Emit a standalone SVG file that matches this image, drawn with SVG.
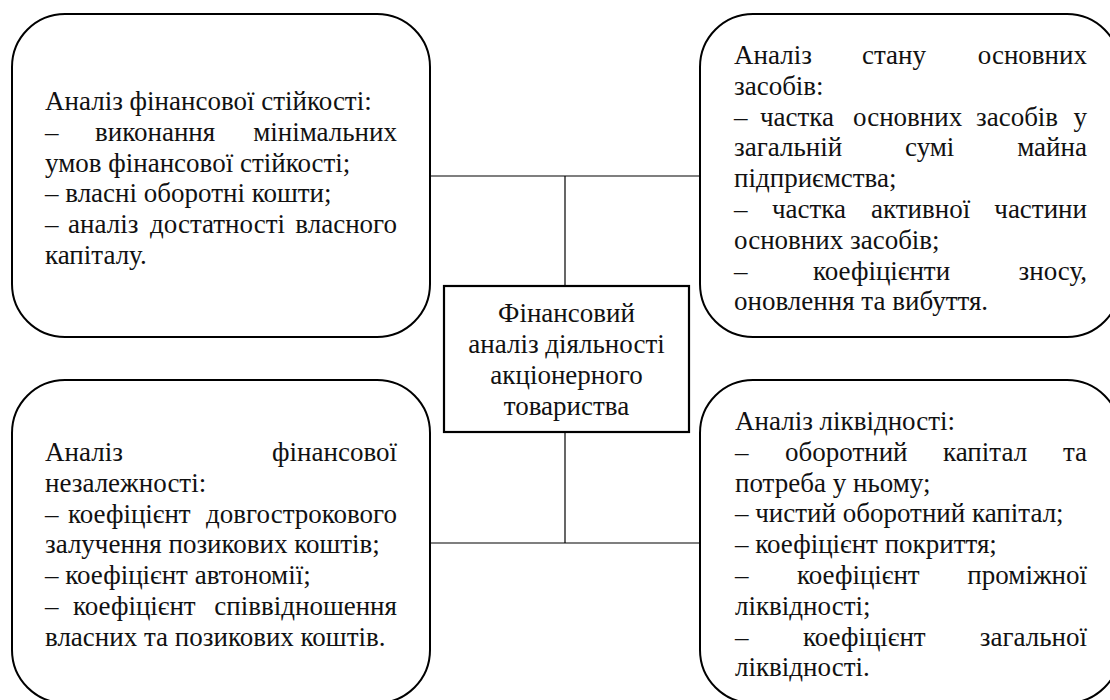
<svg xmlns="http://www.w3.org/2000/svg" width="1110" height="700" viewBox="0 0 1110 700">
<rect width="1110" height="700" fill="#fff"/>
<g id="connectors" stroke="#000" stroke-width="1.2" fill="none">
<line x1="430" y1="176" x2="700" y2="176"/>
<line x1="565" y1="176" x2="565" y2="286"/>
<line x1="565" y1="432" x2="565" y2="543"/>
<line x1="430" y1="543" x2="700" y2="543"/>
</g>
<g id="node-stability">
<rect x="12" y="14" width="418" height="323" rx="53" ry="53" fill="#fff" stroke="#000" stroke-width="2"/>
<text style="font-family:'Liberation Serif',serif !important;font-size:27px" fill="#111" x="45" y="110">Аналіз фінансової стійкості:</text>
<text style="font-family:'Liberation Serif',serif !important;font-size:27px" fill="#111" y="140.8"><tspan x="45">–</tspan><tspan x="95">виконання</tspan><tspan x="397" text-anchor="end">мінімальних</tspan></text>
<text style="font-family:'Liberation Serif',serif !important;font-size:27px" fill="#111" x="45" y="171.6">умов фінансової стійкості;</text>
<text style="font-family:'Liberation Serif',serif !important;font-size:27px" fill="#111" x="45" y="202.4">– власні оборотні кошти;</text>
<text style="font-family:'Liberation Serif',serif !important;font-size:27px" fill="#111" y="233.2"><tspan x="45">–</tspan><tspan x="68">аналіз</tspan><tspan x="150">достатності</tspan><tspan x="397" text-anchor="end">власного</tspan></text>
<text style="font-family:'Liberation Serif',serif !important;font-size:27px" fill="#111" x="45" y="264">капіталу.</text>
</g>
<g id="node-fixed-assets">
<rect x="700" y="14" width="420" height="323" rx="53" ry="53" fill="#fff" stroke="#000" stroke-width="2"/>
<text style="font-family:'Liberation Serif',serif !important;font-size:27px" fill="#111" y="64"><tspan x="734">Аналіз</tspan><tspan x="862">стану</tspan><tspan x="1087" text-anchor="end">основних</tspan></text>
<text style="font-family:'Liberation Serif',serif !important;font-size:27px" fill="#111" x="734" y="94.8">засобів:</text>
<text style="font-family:'Liberation Serif',serif !important;font-size:27px" fill="#111" y="125.6"><tspan x="734">–</tspan><tspan x="760">частка</tspan><tspan x="853">основних</tspan><tspan x="976">засобів</tspan><tspan x="1087" text-anchor="end">у</tspan></text>
<text style="font-family:'Liberation Serif',serif !important;font-size:27px" fill="#111" y="156.4"><tspan x="734">загальній</tspan><tspan x="905">сумі</tspan><tspan x="1087" text-anchor="end">майна</tspan></text>
<text style="font-family:'Liberation Serif',serif !important;font-size:27px" fill="#111" x="734" y="187.2">підприємства;</text>
<text style="font-family:'Liberation Serif',serif !important;font-size:27px" fill="#111" y="218"><tspan x="734">–</tspan><tspan x="772">частка</tspan><tspan x="871">активної</tspan><tspan x="1087" text-anchor="end">частини</tspan></text>
<text style="font-family:'Liberation Serif',serif !important;font-size:27px" fill="#111" x="734" y="248.8">основних засобів;</text>
<text style="font-family:'Liberation Serif',serif !important;font-size:27px" fill="#111" y="279.6"><tspan x="734">–</tspan><tspan x="813">коефіцієнти</tspan><tspan x="1087" text-anchor="end">зносу,</tspan></text>
<text style="font-family:'Liberation Serif',serif !important;font-size:27px" fill="#111" x="734" y="310.4">оновлення та вибуття.</text>
</g>
<g id="node-center">
<rect x="444" y="286" width="245" height="146" fill="#fff" stroke="#000" stroke-width="2.2"/>
<text style="font-family:'Liberation Serif',serif !important;font-size:27px" fill="#111" text-anchor="middle" x="566.5" y="322">Фінансовий</text>
<text style="font-family:'Liberation Serif',serif !important;font-size:27px" fill="#111" text-anchor="middle" x="566.5" y="353">аналіз діяльності</text>
<text style="font-family:'Liberation Serif',serif !important;font-size:27px" fill="#111" text-anchor="middle" x="566.5" y="384">акціонерного</text>
<text style="font-family:'Liberation Serif',serif !important;font-size:27px" fill="#111" text-anchor="middle" x="566.5" y="415">товариства</text>
</g>
<g id="node-independence">
<rect x="12" y="380" width="418" height="323" rx="53" ry="53" fill="#fff" stroke="#000" stroke-width="2"/>
<text style="font-family:'Liberation Serif',serif !important;font-size:27px" fill="#111" y="461"><tspan x="45">Аналіз</tspan><tspan x="397" text-anchor="end">фінансової</tspan></text>
<text style="font-family:'Liberation Serif',serif !important;font-size:27px" fill="#111" x="45" y="491.8">незалежності:</text>
<text style="font-family:'Liberation Serif',serif !important;font-size:27px" fill="#111" y="522.6"><tspan x="45">–</tspan><tspan x="68">коефіцієнт</tspan><tspan x="397" text-anchor="end">довгострокового</tspan></text>
<text style="font-family:'Liberation Serif',serif !important;font-size:27px" fill="#111" x="45" y="553.4">залучення позикових коштів;</text>
<text style="font-family:'Liberation Serif',serif !important;font-size:27px" fill="#111" x="45" y="584.2">– коефіцієнт автономії;</text>
<text style="font-family:'Liberation Serif',serif !important;font-size:27px" fill="#111" y="615"><tspan x="45">–</tspan><tspan x="73">коефіцієнт</tspan><tspan x="397" text-anchor="end">співвідношення</tspan></text>
<text style="font-family:'Liberation Serif',serif !important;font-size:27px" fill="#111" x="45" y="645.8">власних та позикових коштів.</text>
</g>
<g id="node-liquidity">
<rect x="700" y="380" width="420" height="323" rx="53" ry="53" fill="#fff" stroke="#000" stroke-width="2"/>
<text style="font-family:'Liberation Serif',serif !important;font-size:27px" fill="#111" x="735" y="430">Аналіз ліквідності:</text>
<text style="font-family:'Liberation Serif',serif !important;font-size:27px" fill="#111" y="460.8"><tspan x="735">–</tspan><tspan x="785">оборотний</tspan><tspan x="943">капітал</tspan><tspan x="1087" text-anchor="end">та</tspan></text>
<text style="font-family:'Liberation Serif',serif !important;font-size:27px" fill="#111" x="735" y="491.6">потреба у ньому;</text>
<text style="font-family:'Liberation Serif',serif !important;font-size:27px" fill="#111" x="735" y="522.4">– чистий оборотний капітал;</text>
<text style="font-family:'Liberation Serif',serif !important;font-size:27px" fill="#111" x="735" y="553.2">– коефіцієнт покриття;</text>
<text style="font-family:'Liberation Serif',serif !important;font-size:27px" fill="#111" y="584"><tspan x="735">–</tspan><tspan x="797">коефіцієнт</tspan><tspan x="1087" text-anchor="end">проміжної</tspan></text>
<text style="font-family:'Liberation Serif',serif !important;font-size:27px" fill="#111" x="735" y="614.8">ліквідності;</text>
<text style="font-family:'Liberation Serif',serif !important;font-size:27px" fill="#111" y="645.6"><tspan x="735">–</tspan><tspan x="803">коефіцієнт</tspan><tspan x="1087" text-anchor="end">загальної</tspan></text>
<text style="font-family:'Liberation Serif',serif !important;font-size:27px" fill="#111" x="735" y="676.4">ліквідності.</text>
</g>
</svg>
